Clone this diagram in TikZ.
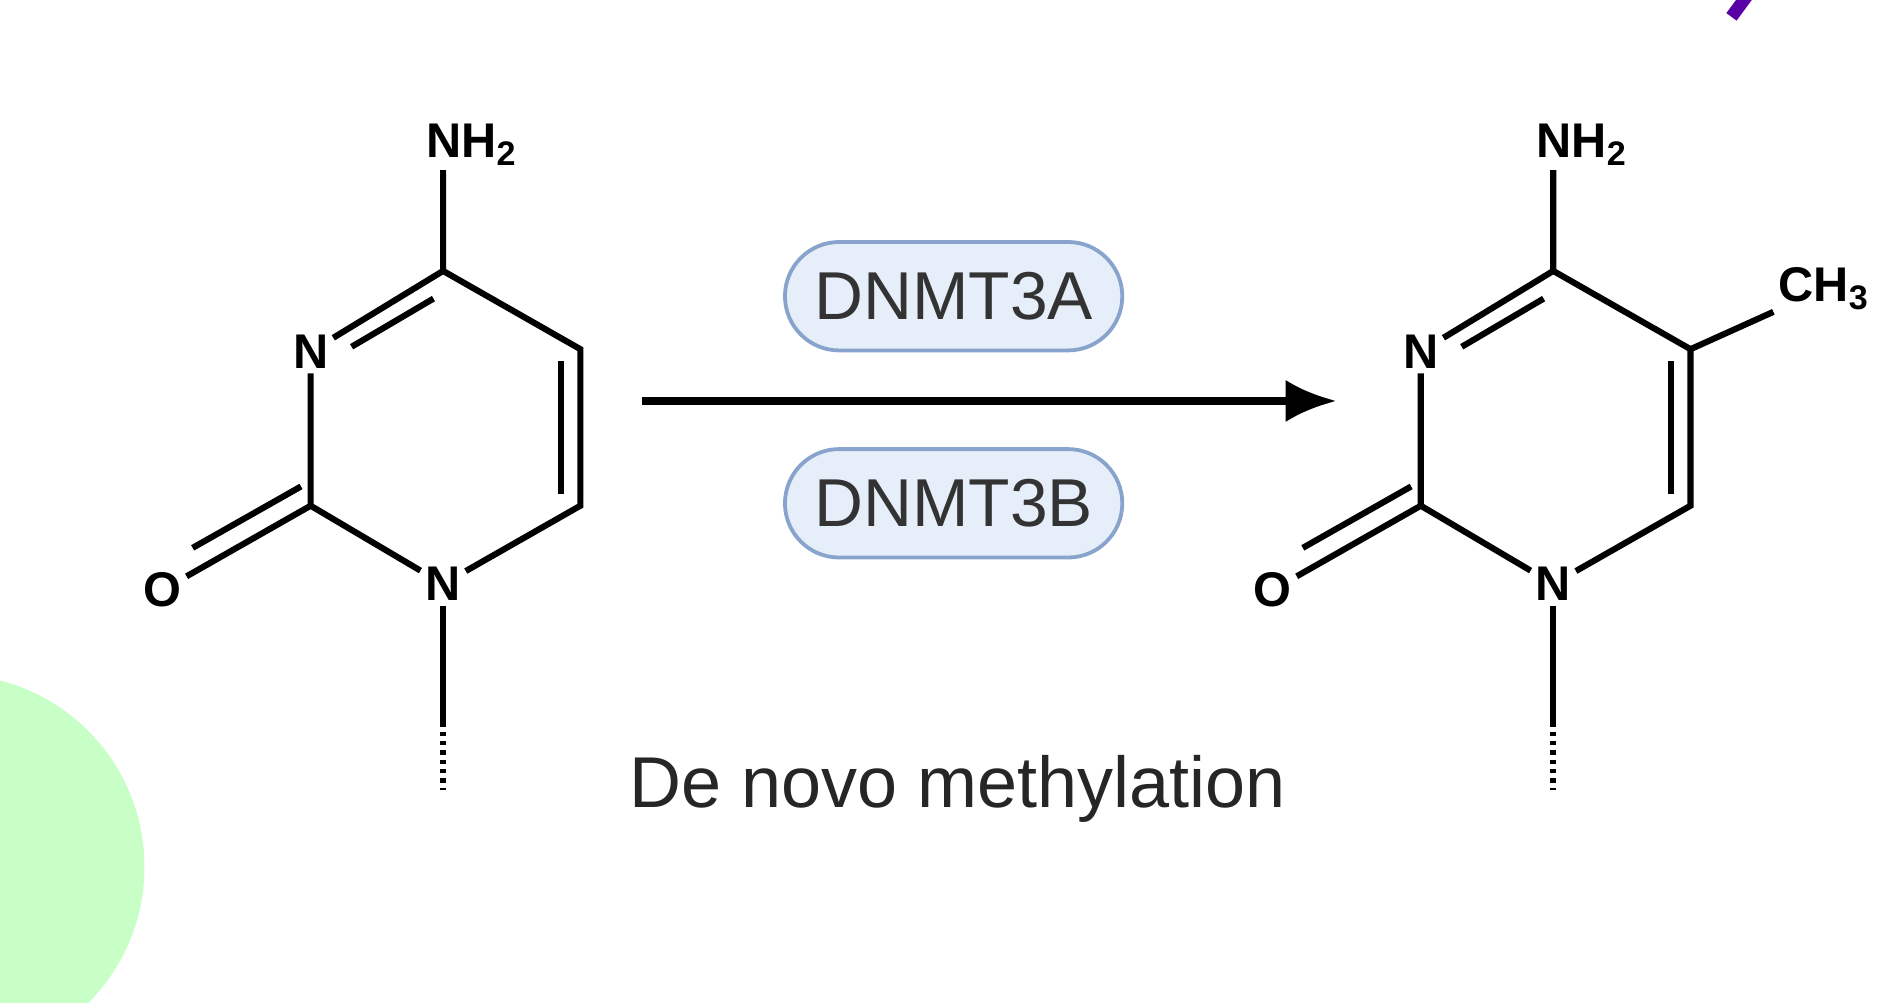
\documentclass[tikz,border=0pt]{standalone}
\usepackage{fontspec}
\setmainfont{Liberation Sans}
\usetikzlibrary{calc,arrows.meta}
\definecolor{pillb}{HTML}{88A4CC}
\definecolor{pillf}{HTML}{E6EEF9}
\begin{document}
\begin{tikzpicture}[x=0.01cm,y=-0.01cm,
  bond/.style={line width=1.45pt},
  atom/.style={font=\fontsize{11.5}{13}\selectfont\bfseries, inner sep=1pt, fill=white},
  pill/.style={draw=pillb, fill=pillf, line width=0.9pt, rounded corners=0.45cm, minimum width=2.8cm, minimum height=0.9cm, font=\fontsize{16}{18}\selectfont, text=black!80}]
\useasboundingbox (0,0) rectangle (1568,833);
\fill[white] (0,0) rectangle (1568,833);
\begin{scope}
\clip (0,0) rectangle (1568,833);
\fill[green!22] (-40,720) circle (160);
\draw[line width=3pt, violet!70!blue] (1452,-5) -- (1438,14);
\end{scope}
\foreach \dx/\nm in {0/L,922/R}{
\begin{scope}[xshift=\dx*0.01cm]
\coordinate (C4\nm) at (368,225);
\coordinate (C5\nm) at (482,290);
\coordinate (C6\nm) at (482,420);
\coordinate (C2\nm) at (258,420);
\node[atom] (N1\nm) at (368,485) {N};
\node[atom] (N3\nm) at (258,292) {N};
\node[atom] (O\nm) at (135,490) {O};
\node[atom] (NH\nm) at (392,120) {NH\textsubscript{2}};
\draw[bond] (NH\nm.south -| C4\nm) -- (C4\nm) -- (C5\nm) -- (C6\nm) -- (N1\nm);
\draw[bond] (N1\nm) -- (C2\nm) -- (N3\nm);
\draw[bond] (N3\nm) -- (C4\nm);
\draw[bond] (292,288) -- (360,248);
\draw[bond] (466,300) -- (466,410);
\draw[bond] (C2\nm) -- (O\nm);
\draw[bond] (250,404) -- (160,455);
\coordinate (Dm\nm) at (368,600);
\draw[bond] (N1\nm) -- (Dm\nm);
\draw[line width=1.45pt, dash pattern=on 1pt off 1.2pt] (Dm\nm) -- (368,656);
\end{scope}}
\node[atom] (CH3) at (1515,240) {CH\textsubscript{3}};
\draw[bond] (C5R) -- (CH3);
\node[pill] (A) at (792,246) {DNMT3A};
\node[pill] (B) at (792,418) {DNMT3B};
\coordinate (s) at (533,333); \coordinate (e) at (1110,333);
\draw[line width=1.8pt, -{Latex[length=12pt,width=10pt]}] (s) -- (e);
\node[font=\fontsize{17}{20}\selectfont, text=black!85] (T) at (795,655) {De novo methylation};
\end{tikzpicture}
\end{document}
